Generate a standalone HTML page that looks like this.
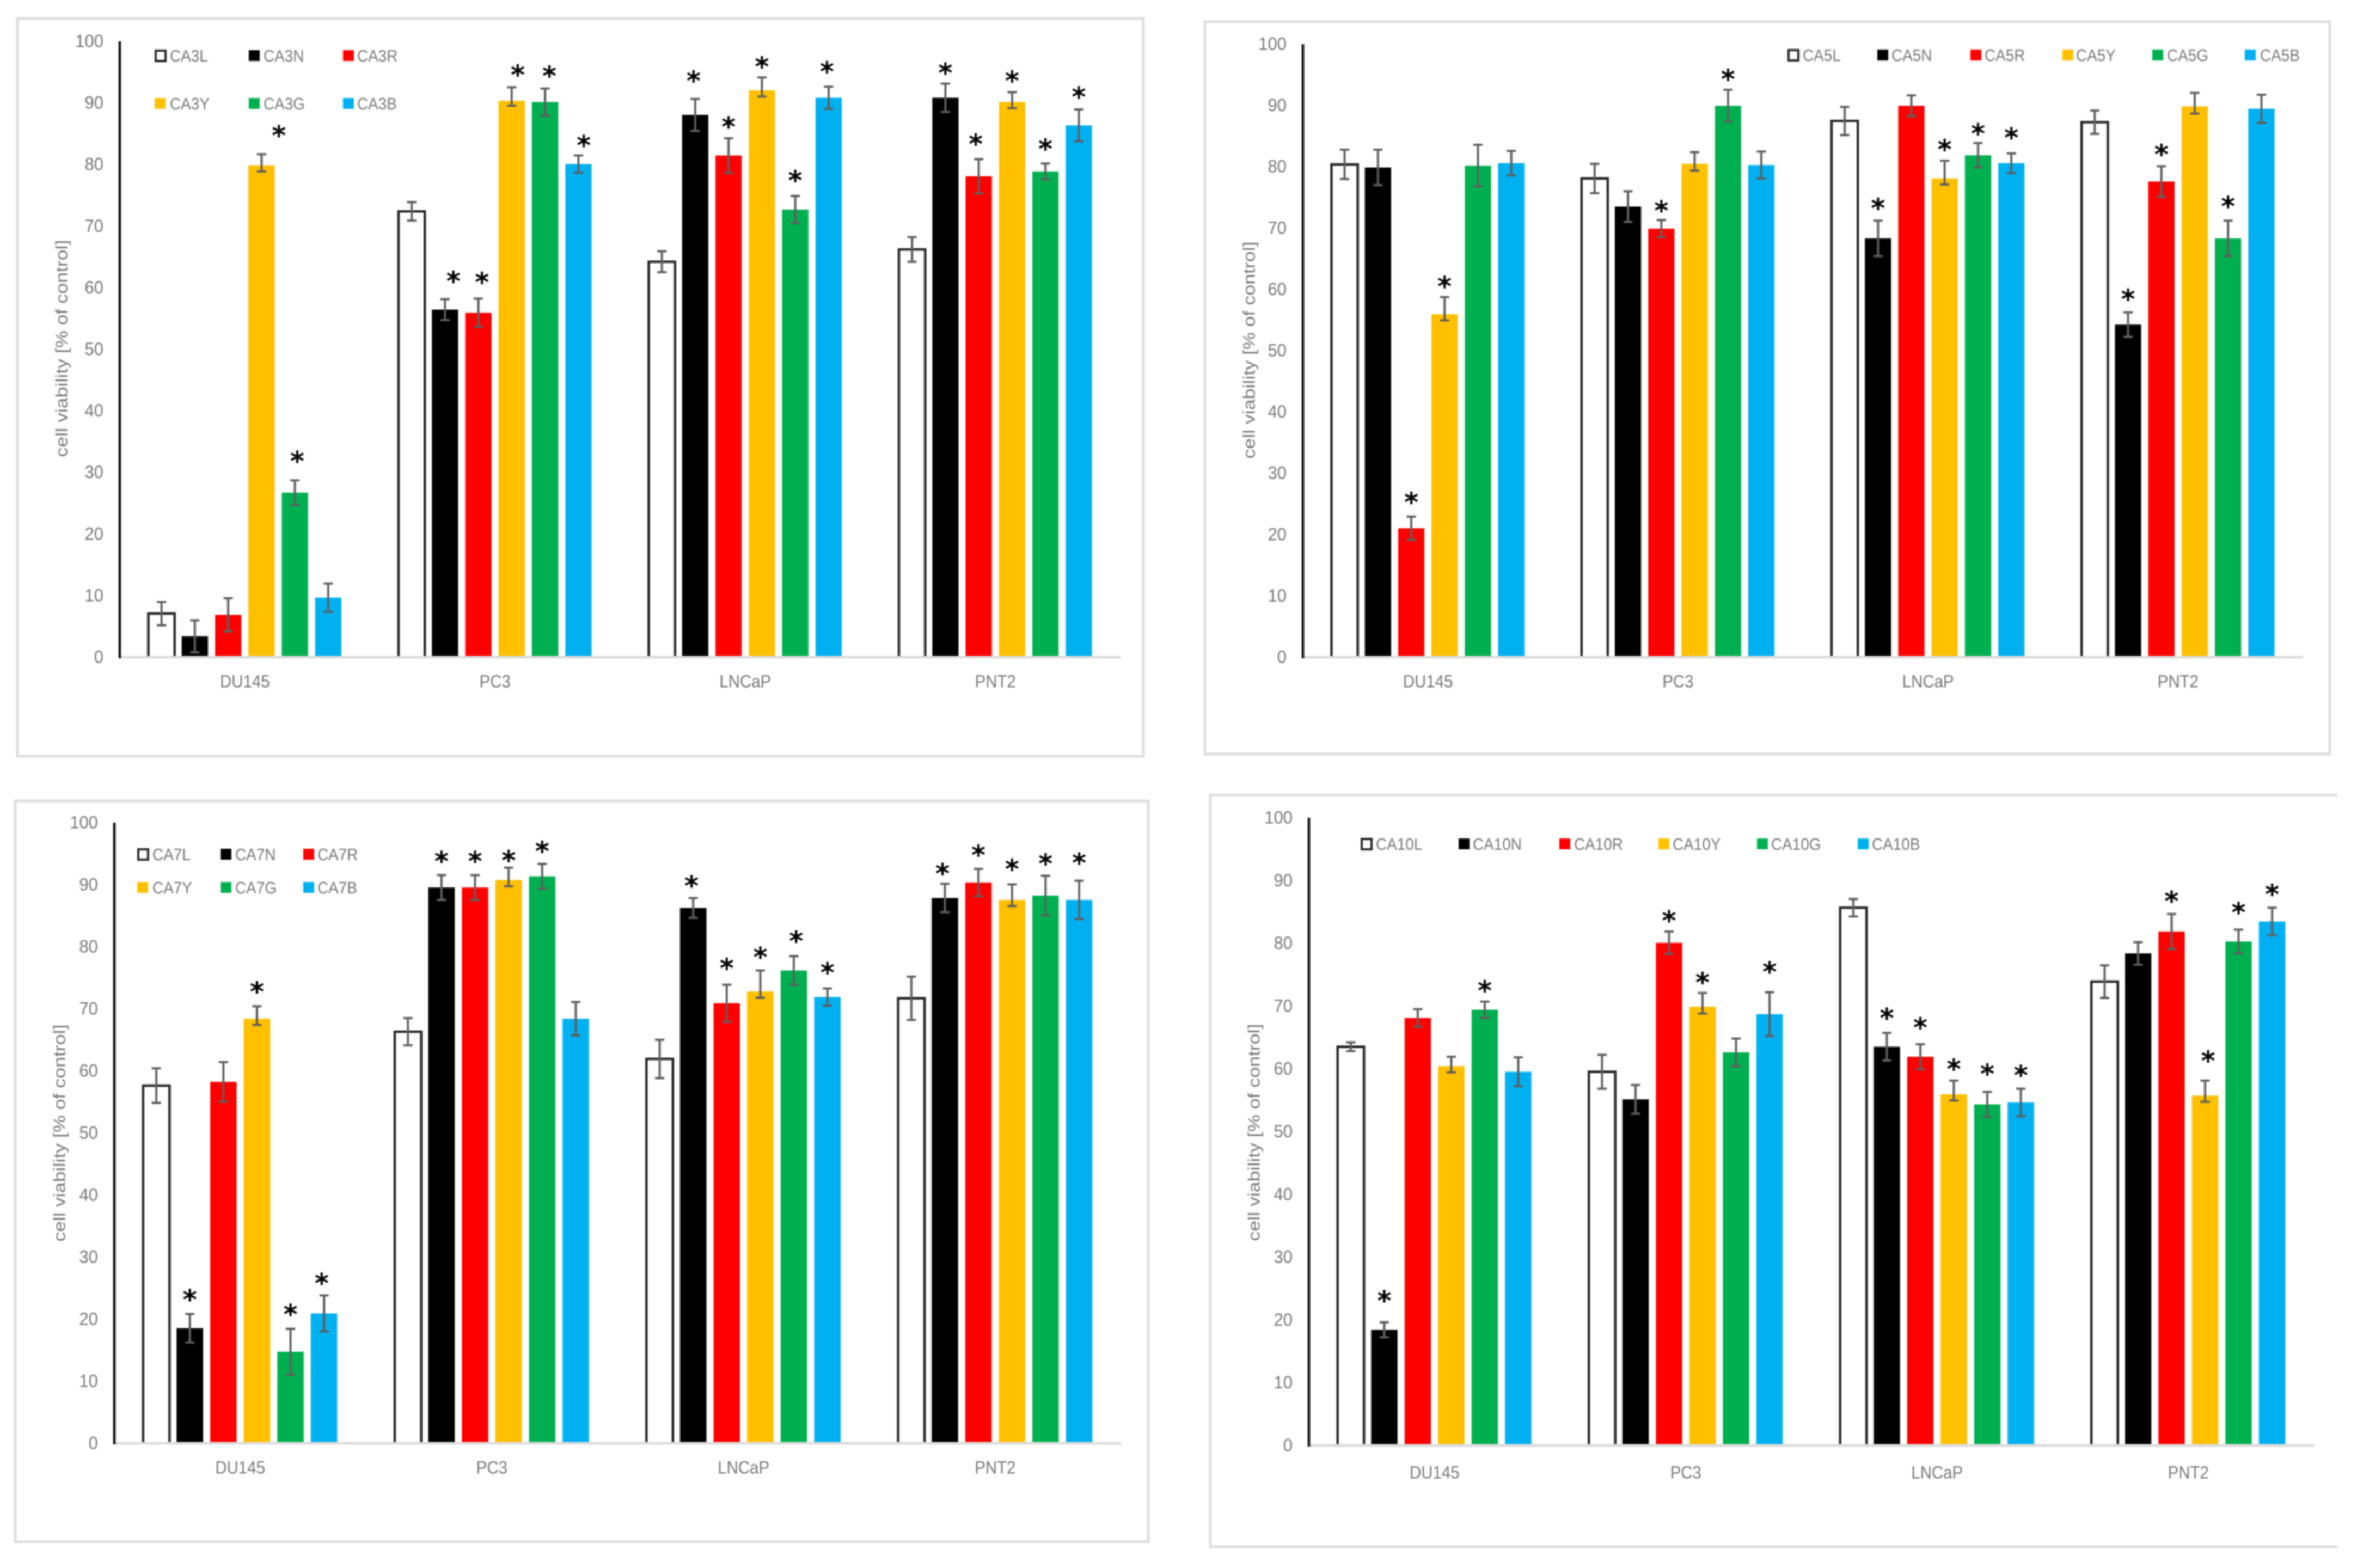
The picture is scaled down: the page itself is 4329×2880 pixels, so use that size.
<!DOCTYPE html>
<html lang="en">
<head>
<meta charset="utf-8">
<title>Cell viability of CA3, CA5, CA7 and CA10 compounds</title>
<style>
html,body{margin:0;padding:0;background:#fff;}
body{width:4329px;height:2880px;overflow:hidden;}
#figure{display:block;filter:blur(1.3px);}
text{font-family:"Liberation Sans",sans-serif;fill:#787878;}
.star{font-family:"DejaVu Sans",sans-serif;font-weight:bold;fill:#000;}
</style>
</head>
<body>
<svg id="figure" xmlns="http://www.w3.org/2000/svg" width="4329" height="2880" viewBox="0 0 4329 2880">
  <rect x="0" y="0" width="4329" height="2880" fill="#fff"/>
  <g id="panel-ca3">
    <rect x="32" y="34" width="2068" height="1355" fill="#fff" stroke="#dedede" stroke-width="5"/>
    <text transform="translate(113,640) rotate(-90)" text-anchor="middle" dominant-baseline="central" font-size="31" textLength="399" lengthAdjust="spacingAndGlyphs">cell viability [% of control]</text>
  </g>
  <g id="panel-ca5">
    <rect x="2213" y="40" width="2066" height="1345" fill="#fff" stroke="#dedede" stroke-width="5"/>
    <text transform="translate(2294,643) rotate(-90)" text-anchor="middle" dominant-baseline="central" font-size="31" textLength="399" lengthAdjust="spacingAndGlyphs">cell viability [% of control]</text>
  </g>
  <g id="panel-ca7">
    <rect x="28" y="1471" width="2081" height="1361" fill="#fff" stroke="#dedede" stroke-width="5"/>
    <text transform="translate(109,2081) rotate(-90)" text-anchor="middle" dominant-baseline="central" font-size="31" textLength="399" lengthAdjust="spacingAndGlyphs">cell viability [% of control]</text>
  </g>
  <g id="panel-ca10">
    <path d="M4293 1460H2223V2841H4293" fill="#fff" stroke="#dedede" stroke-width="5"/>
    <text transform="translate(2303,2080) rotate(-90)" text-anchor="middle" dominant-baseline="central" font-size="31" textLength="399" lengthAdjust="spacingAndGlyphs">cell viability [% of control]</text>
  </g>
</svg>
<script>
// ---------- shared axis data ----------
const categories = ['DU145', 'PC3', 'LNCaP', 'PNT2'];
const yTicks = [0, 10, 20, 30, 40, 50, 60, 70, 80, 90, 100];
const seriesColors = ['#fff', '#000', '#ff0000', '#ffc000', '#00b050', '#00b0f0'];

// ---------- CA3 chart (series L,N,R,Y,G,B; each row across categories) ----------
const ca3Legend = ['CA3L', 'CA3N', 'CA3R', 'CA3Y', 'CA3G', 'CA3B'];
const ca3Values = [
  [7, 72.5, 64.3, 66.3],
  [3.3, 56.5, 88.2, 91],
  [6.8, 56, 81.6, 78.2],
  [80, 90.5, 92.2, 90.3],
  [26.7, 90.3, 72.8, 79],
  [9.6, 80.2, 91, 86.5]
];
const ca3Errors = [
  [1.9, 1.5, 1.7, 2],
  [2.6, 1.7, 2.6, 2.3],
  [2.7, 2.3, 2.8, 2.8],
  [1.8, 2.2, 2.1, 1.6],
  [2, 2.2, 2.2, 1.3],
  [2.3, 1.4, 1.8, 2.6]
];
const ca3YellowLowerErrors = [1, 0.8, 1, 1];
const ca3StarGaps = [
  [null, null, null, null],
  [null, 3.7, 3.7, 2.5],
  [null, 3.4, 2.6, 3.2],
  [3.8, 2.8, 2.5, 2.6],
  [3.9, 2.8, 3.3, 3.1],
  [null, 2.4, 3.2, 2.8]
];

// ---------- CA5 chart ----------
const ca5Legend = ['CA5L', 'CA5N', 'CA5R', 'CA5Y', 'CA5G', 'CA5B'];
const ca5Values = [
  [80.5, 78.2, 87.6, 87.4],
  [80, 73.6, 68.4, 54.3],
  [21, 70, 90.1, 77.7],
  [56, 80.6, 78.2, 90],
  [80.3, 90.1, 82, 68.4],
  [80.7, 80.4, 80.7, 89.6]
];
const ca5Errors = [
  [2.4, 2.4, 2.3, 1.9],
  [2.9, 2.5, 2.9, 2],
  [1.9, 1.4, 1.7, 2.5],
  [2.8, 1.9, 2.9, 2.2],
  [3.4, 2.6, 2, 2.9],
  [2, 2.2, 1.6, 2.3]
];
const ca5YellowLowerErrors = [1, 1.1, 1, 1.2];
const ca5StarGaps = [
  [null, null, null, null],
  [null, null, 2.8, 2.9],
  [3.1, 2.3, null, 2.7],
  [2.5, null, 2.6, null],
  [null, 2.5, 2.3, 3.1],
  [null, null, 3.3, null]
];

// ---------- CA7 chart ----------
const ca7Legend = ['CA7L', 'CA7N', 'CA7R', 'CA7Y', 'CA7G', 'CA7B'];
const ca7Values = [
  [57.7, 66.4, 62, 71.8],
  [18.5, 89.7, 86.4, 88],
  [58.3, 89.7, 71, 90.5],
  [68.5, 90.9, 72.9, 87.7],
  [14.7, 91.5, 76.3, 88.4],
  [20.9, 68.5, 72, 87.7]
];
const ca7Errors = [
  [2.8, 2.2, 3.1, 3.5],
  [2.3, 2, 1.6, 2.3],
  [3.2, 2, 3, 2.2],
  [2, 2, 3.4, 2.5],
  [3.7, 2, 2.3, 3.2],
  [2.9, 2.7, 1.4, 3.1]
];
const ca7YellowLowerErrors = [1, 1, 1, 1];
const ca7StarGaps = [
  [null, null, null, null],
  [3.1, 3, 2.7, 2.4],
  [null, 3, 3.4, 3],
  [3.1, 1.9, 2.9, 3.2],
  [3.1, 2.8, 3.2, 2.7],
  [2.7, null, 3.3, 3.6]
];

// ---------- CA10 chart ----------
const ca10Legend = ['CA10L', 'CA10N', 'CA10R', 'CA10Y', 'CA10G', 'CA10B'];
const ca10Values = [
  [63.6, 59.6, 85.8, 74],
  [18.4, 55.2, 63.6, 78.5],
  [68.2, 80.2, 62, 82],
  [60.5, 70, 56, 55.8],
  [69.5, 62.7, 54.4, 80.4],
  [59.6, 68.8, 54.7, 83.6]
];
const ca10Errors = [
  [0.7, 2.7, 1.4, 2.6],
  [1.2, 2.3, 2.2, 1.8],
  [1.4, 1.8, 2, 2.8],
  [1.5, 2.2, 2.2, 2.4],
  [1.3, 2.2, 2, 1.9],
  [2.3, 3.5, 2.2, 2.2]
];
const ca10YellowLowerErrors = [1, 1.1, 1, 1];
const ca10StarGaps = [
  [null, null, null, null],
  [4.2, null, 3.1, null],
  [null, 2.5, 3.4, 2.8],
  [null, 2.4, 2.6, 3.9],
  [2.5, null, 3.6, 3.5],
  [null, 4, 2.9, 2.9]
];

// ---------- drawing ----------
const SVGNS = 'http://www.w3.org/2000/svg';
const YELLOW_SERIES = 3;

function mk(tag, attrs, parent) {
  const node = document.createElementNS(SVGNS, tag);
  Object.keys(attrs).forEach(function (k) { node.setAttribute(k, attrs[k]); });
  parent.appendChild(node);
  return node;
}

function label(parent, str, x, y, anchor, size, sx) {
  const t = mk('text', {
    transform: 'translate(' + x + ',' + (y + size * 0.358) + ') scale(' + sx + ',1)',
    'text-anchor': anchor,
    'font-size': size
  }, parent);
  t.textContent = str;
  return t;
}

function drawChart(cfg) {
  const root = document.getElementById(cfg.id);
  const xScale = function (groupIndex, seriesIndex) {
    const groupWidth = (cfg.x1 - cfg.x0) / categories.length;
    const centre = cfg.x0 + groupWidth * (groupIndex + 0.5);
    return centre + (seriesIndex - 2.5) * groupWidth * 0.1333;
  };
  const yScale = function (v) {
    return cfg.y0 + (cfg.y100 - cfg.y0) * v / 100;
  };
  const groupWidth = (cfg.x1 - cfg.x0) / categories.length;
  const barWidth = groupWidth * 0.105;

  // tick labels
  yTicks.forEach(function (tick) {
    const t = label(root, String(tick), cfg.x0 - 30, yScale(tick) - 3 * tick / 100, 'end', 32, 0.97);
    
    
  });
  categories.forEach(function (cat, g) {
    const t = label(root, cat, (xScale(g, 2) + xScale(g, 3)) / 2, cfg.y0 + cfg.categoryDrop, 'middle', 32, 0.92);
    
    
  });

  // bars
  cfg.values.forEach(function (row, s) {
    row.forEach(function (v, g) {
      const cx = xScale(g, s);
      const top = yScale(v);
      let bar;
      if (s === 0) {
        bar = mk('path', {
          d: 'M' + (cx - barWidth / 2) + ' ' + (cfg.y0 - 1) + 'V' + top + 'H' + (cx + barWidth / 2) + 'V' + (cfg.y0 - 1),
          fill: '#fff', stroke: '#262626', 'stroke-width': 4.5
        }, root);
      } else {
        bar = mk('rect', {
          x: cx - barWidth / 2, y: top, width: barWidth, height: cfg.y0 - 1 - top,
          fill: seriesColors[s]
        }, root);
      }
      
      
    });
  });

  // axes
  const xAxis = mk('line', {
    x1: cfg.x0, x2: cfg.x1, y1: cfg.y0 + 1, y2: cfg.y0 + 1, stroke: '#dcdcdc', 'stroke-width': 5
  }, root);
  
  
  const yAxis = mk('line', {
    x1: cfg.x0, x2: cfg.x0, y1: cfg.y100 - 2, y2: cfg.y0 + 3, stroke: '#0a0a0a', 'stroke-width': 4.5
  }, root);
  
  

  // error bars and significance stars
  cfg.errors.forEach(function (row, s) {
    row.forEach(function (err, g) {
      const cx = xScale(g, s);
      const v = cfg.values[s][g];
      const lowerErr = s === YELLOW_SERIES ? cfg.yellowLower[g] : err;
      const hi = yScale(v + err);
      const lo = yScale(v - lowerErr);
      const suffix = cfg.legend[s].toLowerCase() + '-' + categories[g].toLowerCase();
      const whisker = mk('path', {
        d: 'M' + cx + ' ' + hi + 'V' + lo +
           'M' + (cx - 8.5) + ' ' + hi + 'H' + (cx + 8.5) +
           'M' + (cx - 8.5) + ' ' + lo + 'H' + (cx + 8.5),
        fill: 'none', stroke: '#5f5f5f', 'stroke-width': 4
      }, root);
      
      

      const gap = cfg.stars[s][g];
      if (gap !== null) {
        const nudge = cfg.starNudge[g + ',' + s] || 0;
        const pitch = groupWidth * 0.1333;
        const star = mk('text', {
          x: cx + nudge * pitch,
          y: yScale(v + err + gap) + 26,
          'text-anchor': 'middle',
          'font-size': 50,
          'class': 'star'
        }, root);
        star.textContent = '*';
        
        
      }
    });
  });

  // legend
  cfg.legend.forEach(function (name, s) {
    const row = s < cfg.legendPerRow ? 0 : 1;
    const col = s % cfg.legendPerRow;
    const sx = cfg.legendSwatchX[col];
    const ty = cfg.legendRowY[row];
    const swatch = mk('rect', s === 0 ? {
      x: sx + 2, y: ty - 9, width: 18, height: 19, fill: '#fff', stroke: '#262626', 'stroke-width': 4
    } : {
      x: sx, y: ty - 10, width: 20, height: 20, fill: seriesColors[s]
    }, root);
    
    
    const t = label(root, name, cfg.legendTextX[col], ty, 'start', 31, 0.9);
    
    
  });
}

drawChart({
  id: 'panel-ca3', x0: 220, x1: 2058, y0: 1206, y100: 78, categoryDrop: 45,
  values: ca3Values, errors: ca3Errors, yellowLower: ca3YellowLowerErrors, stars: ca3StarGaps, legend: ca3Legend,
  starNudge: {'0,3': 0.52, '0,4': 0.07, '1,1': 0.25, '1,2': 0.11, '1,3': 0.18, '1,4': 0.13, '1,5': 0.16, '2,1': -0.05, '2,5': -0.05, '3,2': -0.09},
  legendPerRow: 3, legendSwatchX: [284, 457, 630], legendTextX: [312, 484, 656], legendRowY: [102, 190]
});
drawChart({
  id: 'panel-ca5', x0: 2393, x1: 4230, y0: 1206, y100: 83, categoryDrop: 45,
  values: ca5Values, errors: ca5Errors, yellowLower: ca5YellowLowerErrors, stars: ca5StarGaps, legend: ca5Legend,
  starNudge: {},
  legendPerRow: 6, legendSwatchX: [3283, 3448, 3619, 3788, 3953, 4123], legendTextX: [3311, 3474, 3645, 3813, 3980, 4151], legendRowY: [101, 101]
});
drawChart({
  id: 'panel-ca7', x0: 210, x1: 2059, y0: 2650, y100: 1513, categoryDrop: 45,
  values: ca7Values, errors: ca7Errors, yellowLower: ca7YellowLowerErrors, stars: ca7StarGaps, legend: ca7Legend,
  starNudge: {'0,5': -0.07, '2,1': -0.05, '2,4': 0.07, '3,1': -0.07},
  legendPerRow: 3, legendSwatchX: [252, 405, 557], legendTextX: [280, 432, 583], legendRowY: [1569, 1630]
});
drawChart({
  id: 'panel-ca10', x0: 2404, x1: 4250, y0: 2654, y100: 1504, categoryDrop: 50,
  values: ca10Values, errors: ca10Errors, yellowLower: ca10YellowLowerErrors, stars: ca10StarGaps, legend: ca10Legend,
  starNudge: {'3,3': 0.09},
  legendPerRow: 6, legendSwatchX: [2499, 2679, 2864, 3046, 3227, 3412], legendTextX: [2527, 2705, 2891, 3072, 3253, 3438], legendRowY: [1550, 1550]
});
</script>
</body>
</html>
